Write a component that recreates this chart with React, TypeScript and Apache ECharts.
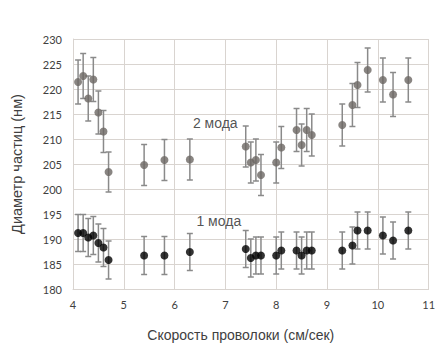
import React, { useEffect, useRef } from "react";
import * as echarts from "echarts";

const speeds = [4.1, 4.2, 4.3, 4.4, 4.5, 4.6, 4.7, 5.4, 5.8, 6.3, 7.4, 7.5, 7.6, 7.7, 8.0, 8.1, 8.4, 8.5, 8.6, 8.7, 9.3, 9.5, 9.6, 9.8, 10.1, 10.3, 10.6];
const mode2 = [221.4, 222.6, 218.1, 221.9, 215.3, 211.5, 203.4, 204.8, 205.8, 205.9, 208.5, 205.3, 205.8, 202.8, 205.3, 208.3, 211.8, 208.8, 211.8, 210.8, 212.8, 216.8, 220.8, 223.8, 221.8, 218.9, 221.8];
const mode2Err = [4.4, 4.5, 4.5, 4.4, 4.3, 4.2, 4.0, 4.1, 4.1, 4.1, 4.1, 4.1, 4.2, 4.1, 4.1, 4.2, 4.3, 4.2, 4.3, 4.2, 4.2, 4.3, 4.5, 4.4, 4.4, 4.4, 4.4];
const mode1 = [191.2, 191.2, 190.3, 190.7, 189.2, 188.3, 185.8, 186.7, 186.7, 187.4, 188.0, 186.2, 186.7, 186.7, 186.7, 187.7, 187.7, 186.7, 187.7, 187.7, 187.7, 188.7, 191.7, 191.7, 190.7, 189.7, 191.7];
const mode1Err = [3.7, 3.7, 3.8, 3.8, 3.8, 3.8, 3.8, 3.8, 3.8, 3.7, 3.7, 3.8, 3.7, 3.7, 3.7, 3.7, 3.7, 3.7, 3.7, 3.7, 3.7, 3.7, 3.7, 3.7, 3.7, 3.7, 3.7];
const labels = [
  { text: "2 мода", x: 6.8, y: 213.3 },
  { text: "1 мода", x: 6.87, y: 193.6 },
];
const xTitle = "Скорость проволоки (см/сек)";
const yTitle = "Диаметр частиц (нм)";

function errorSeries(vals: number[], errs: number[]) {
  return {
    type: "custom",
    z: 1,
    silent: true,
    encode: { x: 0, y: [1, 2] },
    data: speeds.map((s, i) => [s, vals[i] - errs[i], vals[i] + errs[i]]),
    renderItem: (params: any, api: any) => {
      const x = api.value(0);
      const lo = api.coord([x, api.value(1)]);
      const hi = api.coord([x, api.value(2)]);
      const w = 3;
      const style = { stroke: "#8a8a8a", lineWidth: 1.5 };
      return {
        type: "group",
        children: [
          { type: "line", shape: { x1: lo[0], y1: lo[1], x2: hi[0], y2: hi[1] }, style },
          { type: "line", shape: { x1: lo[0] - w, y1: lo[1], x2: lo[0] + w, y2: lo[1] }, style },
          { type: "line", shape: { x1: hi[0] - w, y1: hi[1], x2: hi[0] + w, y2: hi[1] }, style },
        ],
      };
    },
  };
}

export default function App() {
  const ref = useRef<HTMLDivElement>(null);
  useEffect(() => {
    const chart = echarts.init(ref.current!, null, { renderer: "svg" });
    chart.setOption({
      animation: false,
      backgroundColor: "#ffffff",
      grid: { left: 73, right: 6, top: 39, bottom: 48 },
      xAxis: {
        type: "value",
        min: 4,
        max: 11,
        interval: 1,
        name: xTitle,
        nameLocation: "middle",
        nameGap: 39,
        nameTextStyle: { fontFamily: "Liberation Sans", fontSize: 14, color: "#404040", padding: [0, 20, 0, 0] },
        axisLine: { show: true, lineStyle: { color: "#d9d4d0" } },
        axisTick: { show: false },
        axisLabel: { fontFamily: "Lato", fontSize: 11, color: "#404040", margin: 10 },
        splitLine: { show: true, lineStyle: { color: "#d9d4d0", width: 1 } },
      },
      yAxis: {
        type: "value",
        min: 180,
        max: 230,
        interval: 5,
        name: yTitle,
        nameLocation: "middle",
        nameGap: 49,
        nameTextStyle: { fontFamily: "Liberation Sans", fontSize: 14.5, color: "#404040" },
        axisLine: { show: true, lineStyle: { color: "#d9d4d0" } },
        axisTick: { show: false },
        axisLabel: { fontFamily: "Lato", fontSize: 11, color: "#404040", margin: 11 },
        splitLine: { show: true, lineStyle: { color: "#d9d4d0", width: 1 } },
      },
      series: [
        errorSeries(mode2, mode2Err),
        errorSeries(mode1, mode1Err),
        {
          type: "scatter",
          z: 3,
          symbol: "circle",
          symbolSize: 8,
          itemStyle: { color: "#6b6763" },
          data: speeds.map((s, i) => [s, mode2[i]]),
        },
        {
          type: "scatter",
          z: 3,
          symbol: "circle",
          symbolSize: 8,
          itemStyle: { color: "#000000" },
          data: speeds.map((s, i) => [s, mode1[i]]),
        },
        {
          type: "scatter",
          z: 4,
          symbolSize: 0,
          silent: true,
          data: labels.map((l) => ({ value: [l.x, l.y], name: l.text })),
          label: {
            show: true,
            position: "inside",
            formatter: (p: any) => p.name,
            fontFamily: "Liberation Sans",
            fontSize: 14,
            color: "#262626",
          },
        },
      ],
    });
    return () => chart.dispose();
  }, []);
  return (
    <div
      ref={ref}
      style={{ position: "fixed", left: 0, top: 0, width: 438, height: 347 }}
    />
  );
}
